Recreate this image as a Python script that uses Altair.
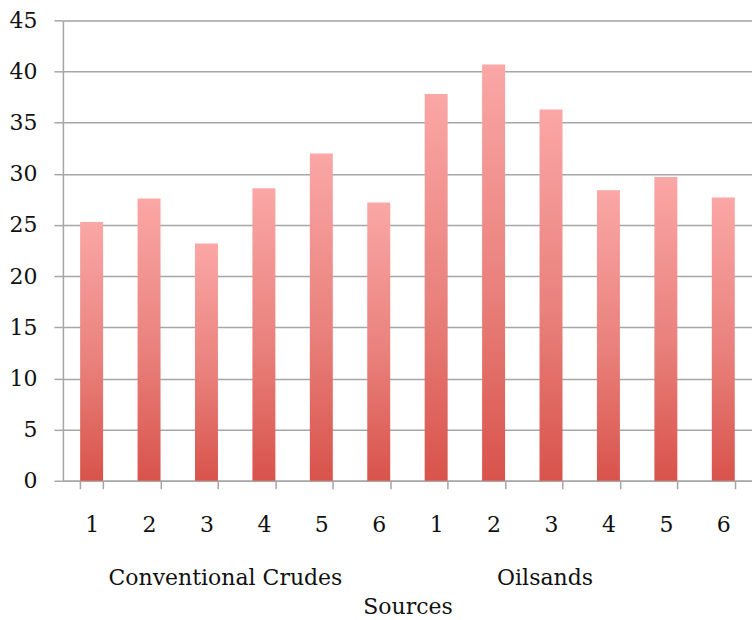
import altair as alt
import pandas as pd

groups = ["Conventional Crudes"] * 6 + ["Oilsands"] * 6
source_nums = [1, 2, 3, 4, 5, 6, 1, 2, 3, 4, 5, 6]
values = [25.3, 27.6, 23.2, 28.6, 32.0, 27.2, 37.8, 40.7, 36.3, 28.4, 29.7, 27.7]
y_ticks = [0, 5, 10, 15, 20, 25, 30, 35, 40, 45]
group_labels = ["Conventional Crudes", "Oilsands"]
x_title = "Sources"

keys = [("CC" if g == "Conventional Crudes" else "OS") + "-" + str(n) for g, n in zip(groups, source_nums)]
df = pd.DataFrame({"key": keys, "group": groups, "num": source_nums, "value": values})

FONT = "DejaVu Serif"
FS = 22
W, H = 690, 461

x_scale = alt.Scale(domain=keys, paddingInner=0.6, paddingOuter=0.3)

gradient = alt.Gradient(
    gradient="linear",
    stops=[
        alt.GradientStop(color="#FAA7A6", offset=0),
        alt.GradientStop(color="#E9807B", offset=0.55),
        alt.GradientStop(color="#D8534B", offset=1),
    ],
    x1=0, x2=0, y1=0, y2=1,
)

bars = alt.Chart(df).mark_bar(color=gradient).encode(
    x=alt.X(
        "key:N",
        scale=x_scale,
        sort=keys,
        axis=alt.Axis(
            title=x_title,
            labelExpr="split(datum.value, '-')[1]",
            labelAngle=0,
            labelFont=FONT,
            labelFontSize=FS,
            labelColor="#111111",
            labelPadding=26,
            tickBand="extent",
            tickSize=8,
            tickColor="#a6a6a6",
            tickWidth=1.5,
            domainColor="#a6a6a6",
            domainWidth=1.5,
            grid=False,
            titleFont=FONT,
            titleFontSize=FS,
            titleFontWeight="normal",
            titleColor="#111111",
            titleY=126,
            titleBaseline="middle",
        ),
    ),
    y=alt.Y(
        "value:Q",
        scale=alt.Scale(domain=[0, 45], nice=False),
        axis=alt.Axis(
            title=None,
            values=y_ticks,
            labelFont=FONT,
            labelFontSize=FS,
            labelColor="#111111",
            labelPadding=17,
            tickSize=9,
            tickColor="#a6a6a6",
            tickWidth=1.5,
            domainColor="#a6a6a6",
            domainWidth=1.5,
            gridColor="#a6a6a6",
            gridWidth=1.5,
        ),
    ),
)

group_keys = ["CC-4", "OS-4"]
group_shifts = [-27, -52]

group_text = []
for k, lab, sh in zip(group_keys, group_labels, group_shifts):
    group_text.append(
        alt.Chart(pd.DataFrame({"key": [k], "label": [lab]})).mark_text(
            font=FONT, fontSize=FS, color="#111111", baseline="middle", align="center", dx=sh
        ).encode(
            x=alt.X("key:N", scale=x_scale, sort=keys, bandPosition=0),
            y=alt.value(H + 97),
            text="label:N",
        )
    )

chart = alt.layer(bars, *group_text).properties(
    width=W,
    height=H,
    padding={"left": 63, "top": 20, "right": 0, "bottom": 139},
    autosize=alt.AutoSizeParams(type="none"),
).configure_view(stroke=None).configure(background="white")

chart.save("out.html", embed_options={"renderer": "svg", "actions": False})
